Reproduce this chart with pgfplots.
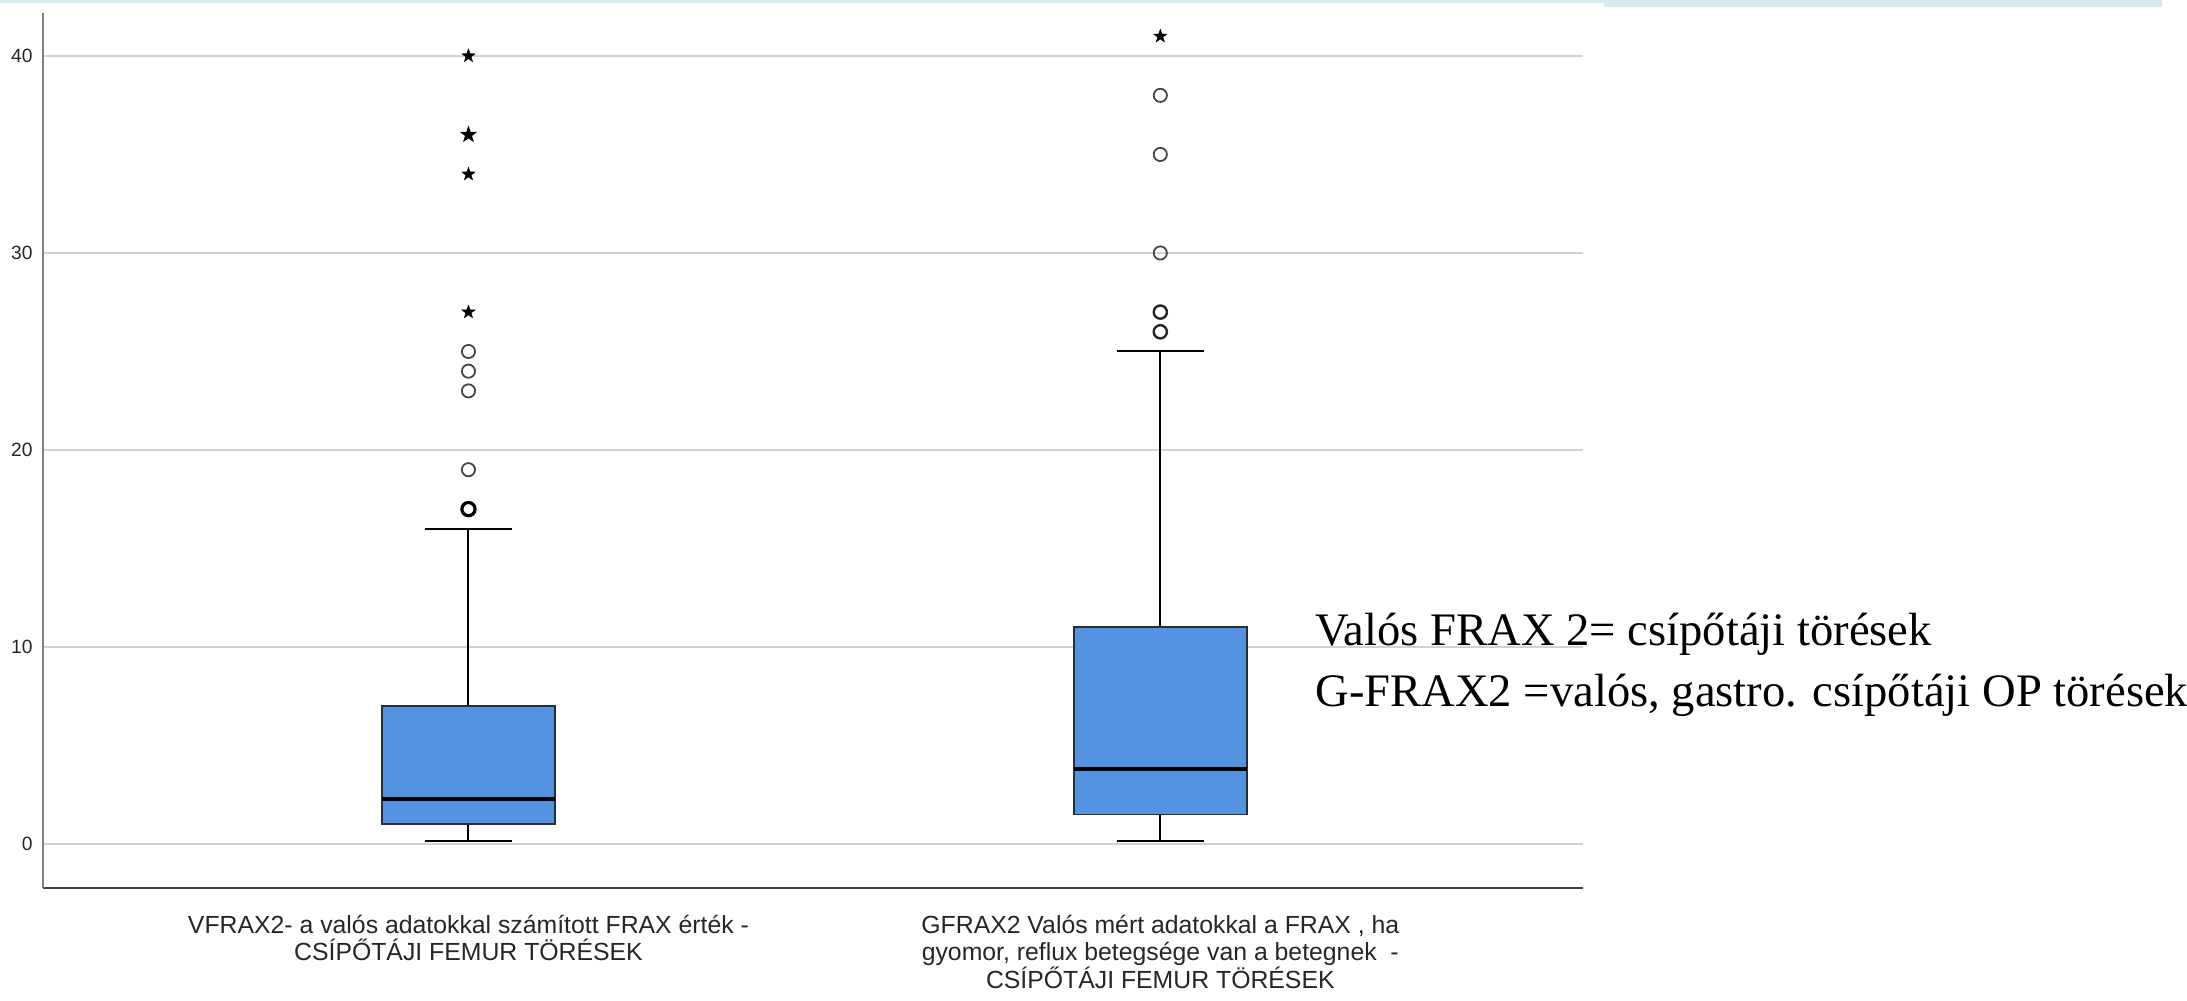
\documentclass[border=0pt]{standalone}
\usepackage{pgfplots}
\pgfplotsset{compat=1.18}
\usepgfplotslibrary{statistics}
\usepackage{fontspec}
\setmainfont{Liberation Sans}
\newfontfamily\notefont{Liberation Serif}

\definecolor{boxblue}{RGB}{83,147,226}
\definecolor{boxedge}{RGB}{45,45,45}
\definecolor{gridgray}{RGB}{210,210,210}
\definecolor{axisgray}{RGB}{128,128,128}
\definecolor{axisdark}{RGB}{70,70,70}
\definecolor{outgray}{RGB}{70,70,70}
\definecolor{bandcyan}{RGB}{216,236,240}

% small filled five-pointed star for extreme values
\pgfdeclareplotmark{fstar}{%
  \pgfpathmoveto{\pgfpointpolar{90}{\pgfplotmarksize}}%
  \pgfpathlineto{\pgfpointpolar{126}{0.4\pgfplotmarksize}}%
  \pgfpathlineto{\pgfpointpolar{162}{\pgfplotmarksize}}%
  \pgfpathlineto{\pgfpointpolar{198}{0.4\pgfplotmarksize}}%
  \pgfpathlineto{\pgfpointpolar{234}{\pgfplotmarksize}}%
  \pgfpathlineto{\pgfpointpolar{270}{0.4\pgfplotmarksize}}%
  \pgfpathlineto{\pgfpointpolar{306}{\pgfplotmarksize}}%
  \pgfpathlineto{\pgfpointpolar{342}{0.4\pgfplotmarksize}}%
  \pgfpathlineto{\pgfpointpolar{18}{\pgfplotmarksize}}%
  \pgfpathlineto{\pgfpointpolar{54}{0.4\pgfplotmarksize}}%
  \pgfpathclose
  \pgfusepathqfillstroke}

\begin{document}
\begin{tikzpicture}
\useasboundingbox (0,0) rectangle (1093.5pt,500pt);
% light band along the top edge
\fill[bandcyan] (0,498.5pt) rectangle (802pt,500pt);
\fill[bandcyan] (802pt,496.5pt) rectangle (1081pt,500pt);

\begin{axis}[
  at={(21.5pt,56pt)}, anchor=south west,
  scale only axis, width=770pt, height=437.5pt,
  xmin=0.385, xmax=2.611, ymin=-2.23, ymax=42.18,
  axis x line*=bottom, axis y line*=left,
  x axis line style={-, draw=axisdark, line width=0.9pt},
  y axis line style={-, draw=axisgray, line width=1.3pt},
  major tick length=0pt,
  ytick={0,10,20,30,40},
  ymajorgrids, grid style={gridgray, line width=1pt},
  xtick={1,2},
  xticklabels={
    {VFRAX2- a valós adatokkal számított FRAX érték -\\CSÍPŐTÁJI FEMUR TÖRÉSEK},
    {GFRAX2 Valós mért adatokkal a FRAX , ha\\gyomor, reflux betegsége van a betegnek \ -\\CSÍPŐTÁJI FEMUR TÖRÉSEK}},
  xticklabel style={font=\fontsize{12.4pt}{13.7pt}\selectfont, align=center, text=black!85, yshift=-10pt},
  yticklabel style={font=\fontsize{9.6pt}{11pt}\selectfont, text=black!85, xshift=-1.7pt},
  /pgf/number format/assume math mode=true,
  boxplot/draw direction=y,
  boxplot/box extend=0.25,
  boxplot/whisker extend=0.126,
  boxplot/every box/.style={fill=boxblue, draw=boxedge, line width=0.9pt},
  boxplot/every whisker/.style={draw=black, line width=1pt},
  boxplot/every median/.style={draw=black, line width=2.2pt},
  clip=false,
]
% VFRAX2
\addplot[boxplot prepared={draw position=1,
  lower whisker=0.15, lower quartile=1.0, median=2.3,
  upper quartile=7.0, upper whisker=16}] coordinates {};
% GFRAX2
\addplot[boxplot prepared={draw position=2,
  lower whisker=0.15, lower quartile=1.5, median=3.8,
  upper quartile=11.0, upper whisker=25}] coordinates {};

% outliers (circles) and extreme values (stars)
\addplot[only marks, mark=o, mark size=3.3pt, draw=outgray, line width=0.9pt]
  coordinates {(1,19) (1,23) (1,24) (1,25) (2,30) (2,35) (2,38)};
\addplot[only marks, mark=o, mark size=3.3pt, draw=black!85, line width=1.2pt]
  coordinates {(2,26) (2,27)};
\addplot[only marks, mark=o, mark size=3.3pt, draw=black, line width=1.6pt]
  coordinates {(1,17)};
\addplot[only marks, mark=fstar, mark size=3.5pt, draw=black, fill=black, line width=0.2pt]
  coordinates {(1,27) (1,34) (1,40) (2,41)};
\addplot[only marks, mark=fstar, mark size=3.8pt, draw=black, fill=black, line width=0.5pt]
  coordinates {(1,36)};
\end{axis}

\node[anchor=base west, inner sep=0pt] at (657.5pt,177pt)
  {\notefont\fontsize{23.3pt}{30pt}\selectfont Valós FRAX 2= csípőtáji törések};
\node[anchor=base west, inner sep=0pt] at (657.5pt,146.5pt)
  {\notefont\fontsize{23.3pt}{30pt}\selectfont G-FRAX2 =valós, gastro. csípőtáji OP törések};
\end{tikzpicture}
\end{document}
